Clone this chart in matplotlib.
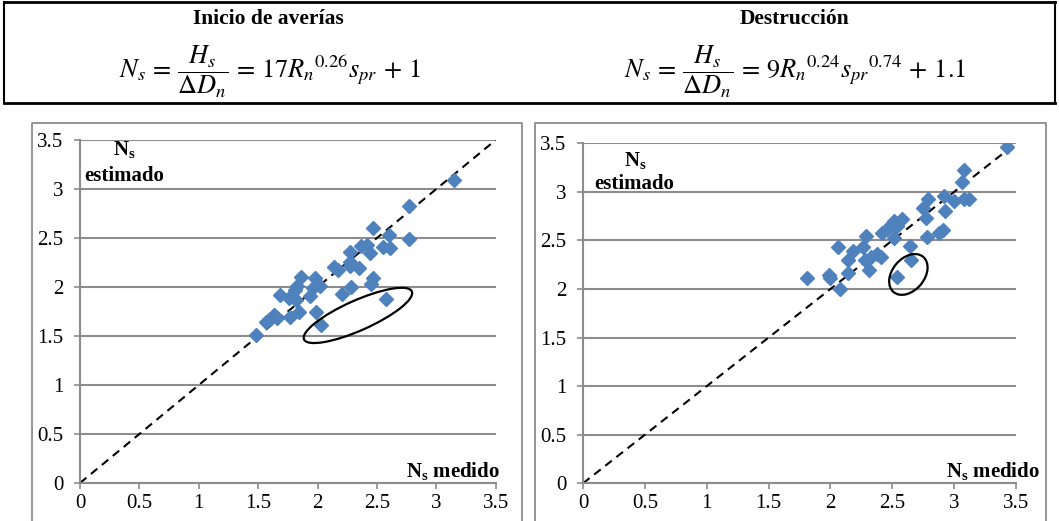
import matplotlib.pyplot as plt
from matplotlib.patches import Ellipse
from matplotlib.lines import Line2D
from matplotlib.transforms import ScaledTranslation

plt.rcParams['font.family'] = ['Liberation Serif', 'DejaVu Serif']
plt.rcParams['mathtext.fontset'] = 'custom'
plt.rcParams['mathtext.rm'] = 'Liberation Serif'
plt.rcParams['mathtext.it'] = 'Liberation Serif:italic'
plt.rcParams['mathtext.bf'] = 'Liberation Serif:bold'

# Inicio de averías: N_s medido vs N_s estimado
ini_medido = [1.48, 1.57, 1.60, 1.63, 1.64, 1.66, 1.68, 1.76, 1.77, 1.82,
              1.81, 1.83, 1.84, 1.86, 1.94, 1.96, 1.98, 1.99, 2.02, 2.03,
              2.14, 2.17, 2.21, 2.27, 2.27, 2.27, 2.28, 2.35, 2.37, 2.42,
              2.44, 2.45, 2.47, 2.47, 2.55, 2.60, 2.61, 2.58, 2.77, 2.77,
              3.15]
ini_estimado = [1.51, 1.64, 1.67, 1.71, 1.70, 1.68, 1.92, 1.89, 1.69, 1.87,
                1.97, 2.01, 1.74, 2.10, 1.91, 1.99, 2.09, 1.75, 2.01, 1.61,
                2.20, 2.17, 1.93, 2.36, 2.26, 2.21, 2.00, 2.19, 2.42, 2.43,
                2.35, 2.03, 2.09, 2.60, 2.41, 2.53, 2.40, 1.88, 2.83, 2.49,
                3.09]

# Destrucción
des_medido = [1.81, 1.99, 2.00, 2.06, 2.08, 2.14, 2.14, 2.18, 2.26, 2.29,
              2.28, 2.31, 2.33, 2.38, 2.41, 2.42, 2.46, 2.49, 2.51, 2.54,
              2.58, 2.51, 2.64, 2.65, 2.54, 2.75, 2.77, 2.78, 2.79, 2.88,
              2.91, 2.93, 2.92, 3.00, 3.06, 3.08, 3.08, 3.12, 3.43]
des_estimado = [2.11, 2.14, 2.11, 2.43, 2.00, 2.17, 2.30, 2.39, 2.43, 2.55,
                2.30, 2.20, 2.33, 2.36, 2.33, 2.58, 2.62, 2.66, 2.70, 2.65,
                2.72, 2.53, 2.44, 2.30, 2.12, 2.83, 2.73, 2.54, 2.93, 2.58,
                2.61, 2.80, 2.96, 2.91, 3.10, 3.23, 2.93, 2.93, 3.46]

ticks = [0, 0.5, 1, 1.5, 2, 2.5, 3, 3.5]
tick_labels = ['0', '0.5', '1', '1.5', '2', '2.5', '3', '3.5']

W, H = 1059, 521
fig = plt.figure(figsize=(W / 100, H / 100), dpi=100)


def px(x0, y0, x1, y1):
    # pixel box (y from top) -> figure fraction [left, bottom, width, height]
    return [x0 / W, 1 - y1 / H, (x1 - x0) / W, (y1 - y0) / H]


def fline(xs, ys, **kw):
    fig.add_artist(Line2D([x / W for x in xs], [1 - y / H for y in ys],
                          transform=fig.transFigure, **kw))


# header box with titles and formulas
fline([4, 1055], [2, 2], color='black', lw=2)
fline([4, 1055], [103, 103], color='black', lw=2)
fline([4, 4], [2, 103], color='black', lw=1.5)
fline([1055, 1055], [2, 103], color='black', lw=1.5)

fig.text(268 / W, 1 - 19 / H, 'Inicio de averías', ha='center', va='center',
         fontsize=15.5, fontweight='bold')
fig.text(795 / W, 1 - 19 / H, 'Destrucción', ha='center', va='center',
         fontsize=15.5, fontweight='bold')
fig.text(270 / W, 1 - 72 / H,
         r'$N_s\,=\,\dfrac{H_s}{\Delta D_n}\,=\,17{R_n}^{0.26}s_{pr}\,+\,1$',
         ha='center', va='center', fontsize=19, math_fontfamily='stix')
fig.text(795 / W, 1 - 72 / H,
         r'$N_s\,=\,\dfrac{H_s}{\Delta D_n}\,=\,9{R_n}^{0.24}{s_{pr}}^{0.74}\,+\,1.1$',
         ha='center', va='center', fontsize=19, math_fontfamily='stix')

# chart frames
for x0, x1 in [(32, 522), (535, 1046)]:
    fline([x0, x0, x1, x1], [H + 5, 123, 123, H + 5], color='#8c8c8c', lw=1.3)

ax1 = fig.add_axes(px(80, 140, 495.7, 483))
ax2 = fig.add_axes(px(583, 143.3, 1016, 483.3))

panels = [
    (ax1, ini_medido, ini_estimado, (0.106, 0.971), (0.106, 0.894), 1.01,
     (2.34, 1.71), 1.18, 0.30, 24),
    (ax2, des_medido, des_estimado, (0.121, 0.948), (0.119, 0.880), 1.055,
     (2.63, 2.15), 0.46, 0.32, 50),
]

for ax, xm, ye, n_pos, est_pos, med_x, ell_c, ell_w, ell_h, ell_a in panels:
    ax.plot([0, 3.5], [0, 3.5], color='black', lw=1.5, dashes=(4, 2.8),
            zorder=2)
    ax.plot(xm, ye, linestyle='none', marker='D', ms=6.8, color='#4f81bd',
            zorder=3)
    ax.set_xlim(0, 3.5)
    ax.set_ylim(0, 3.5)
    ax.set_xticks(ticks)
    ax.set_xticklabels(tick_labels)
    ax.set_yticks(ticks)
    ax.set_yticklabels(tick_labels)
    ax.tick_params(direction='out', length=4, width=1.2, color='#8c8c8c',
                   labelsize=15, labelcolor='black')
    ax.tick_params(axis='y', pad=8)
    ax.tick_params(axis='x', pad=4)
    ax.grid(axis='y', color='#8c8c8c', lw=1.5)
    ax.set_axisbelow(True)
    for s in ['top', 'right']:
        ax.spines[s].set_visible(False)
    for s in ['left', 'bottom']:
        ax.spines[s].set_color('#8c8c8c')
        ax.spines[s].set_linewidth(1.5)

    ax.text(n_pos[0], n_pos[1], r'$\mathbf{N}_{\mathbf{s}}$', transform=ax.transAxes,
            ha='center', va='center', fontsize=15, fontweight='bold')
    ax.text(est_pos[0], est_pos[1], 'estimado', transform=ax.transAxes,
            ha='center', va='center', fontsize=15, fontweight='bold')
    ax.text(med_x, 0.018, r'$\mathbf{N}_{\mathbf{s}}$ medido', transform=ax.transAxes,
            ha='right', va='baseline', fontsize=15, fontweight='bold')

    # highlighted points
    ell = Ellipse((0, 0), ell_w, ell_h, angle=ell_a, fill=False, ec='black',
                  lw=1.6, zorder=4,
                  transform=fig.dpi_scale_trans + ScaledTranslation(
                      ell_c[0], ell_c[1], ax.transData))
    ax.add_patch(ell)

fig.savefig('out.png', dpi=100)
